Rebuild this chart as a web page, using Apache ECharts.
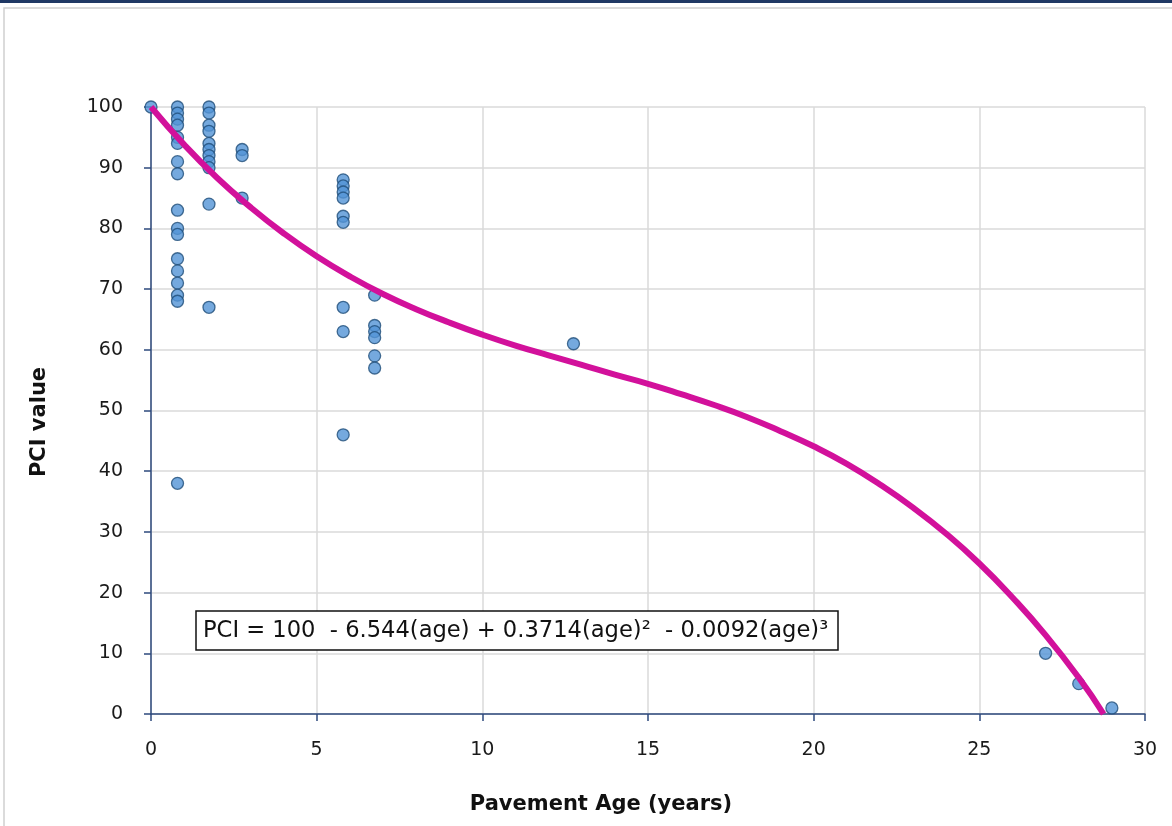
<!DOCTYPE html>
<html>
<head>
<meta charset="utf-8">
<script src="https://cdn.jsdelivr.net/npm/echarts@6/dist/echarts.min.js"></script>
<style>
html,body{margin:0;padding:0;background:#fff;}
#c{width:1172px;height:826px;}
</style>
</head>
<body>
<div id="c"></div>
<script>
// Observed PCI points: [pavement age (years), PCI value]
const ages = [
  0,
  0.8,0.8,0.8,0.8,0.8,0.8,0.8,0.8,0.8,0.8,0.8,0.8,0.8,0.8,0.8,0.8,0.8,
  1.75,1.75,1.75,1.75,1.75,1.75,1.75,1.75,1.75,1.75,1.75,
  2.75,2.75,2.75,
  5.8,5.8,5.8,5.8,5.8,5.8,5.8,5.8,5.8,
  6.75,6.75,6.75,6.75,6.75,6.75,
  12.75,
  27,28,29
];
const pciValues = [
  100,
  100,99,98,97,95,94,91,89,83,80,79,75,73,71,69,68,38,
  100,99,97,96,94,93,92,91,90,84,67,
  93,92,85,
  88,87,86,85,82,81,67,63,46,
  69,64,63,62,59,57,
  61,
  10,5,1
];
// Trend curve
const curveAges = [0,1,2,3,4,5,6,7,8,9,10,11,12,13,14,15,16,17,18,19,20,21,22,23,24,25,26,27,28,28.75];
const curvePci  = [100,93.8,88.3,83.5,79.2,75.4,72.1,69.2,66.7,64.5,62.5,60.7,59.1,57.5,55.9,54.4,52.7,50.9,48.9,46.6,44.1,41.2,37.8,34.0,29.7,24.8,19.2,13.0,6.0,0];
const xTicks = [0,5,10,15,20,25,30];
const yTicks = [0,10,20,30,40,50,60,70,80,90,100];
const equation = 'PCI = 100  - 6.544(age) + 0.3714(age)\u00B2  - 0.0092(age)\u00B3';
const xTitle = 'Pavement Age (years)';
const yTitle = 'PCI value';

const chart = echarts.init(document.getElementById('c'), null, {renderer:'canvas'});
const FONT = 'DejaVu Sans';
const points = ages.map((a,i)=>[a,pciValues[i]]);
const curve = curveAges.map((a,i)=>[a,curvePci[i]]);
const navy = '#2E4A7D';
chart.setOption({
  animation:false,
  backgroundColor:'#fff',
  graphic:[
    {type:'rect', shape:{x:0,y:0,width:1172,height:3}, style:{fill:'#1F3864'}, z:100},
    {type:'rect', shape:{x:4,y:8,width:1200,height:900}, style:{fill:'none',stroke:'#D0D0D0',lineWidth:1.5}, z:100},
    {type:'rect', shape:{x:196,y:611,width:642,height:39}, style:{fill:'#fff',stroke:'#111',lineWidth:1.5}, z:50},
    {type:'text', x:203, y:631, z:51,
      style:{text:equation, fill:'#111', font:'normal 22.6px "DejaVu Sans"', textVerticalAlign:'middle', textAlign:'left'}},
    {type:'text', x:601, y:805, z:51,
      style:{text:xTitle, fill:'#111', font:'bold 21px "DejaVu Sans"', textVerticalAlign:'middle', textAlign:'center'}},
    {type:'text', x:40, y:422, rotation:Math.PI/2, z:51,
      style:{text:yTitle, fill:'#111', font:'bold 21px "DejaVu Sans"', textVerticalAlign:'middle', textAlign:'center'}}
  ],
  grid:{left:151, right:27, top:107, bottom:112, containLabel:false},
  xAxis:{
    type:'value', min:0, max:30, interval:5,
    axisLine:{show:true, lineStyle:{color:navy, width:1.5}},
    axisTick:{show:true, length:7, inside:false, lineStyle:{color:navy, width:1.5}},
    axisLabel:{fontFamily:FONT, fontSize:19, color:'#1a1a1a', margin:27,
      formatter:v=>xTicks.includes(v)?String(v):''},
    splitLine:{show:true, lineStyle:{color:'#DADADA', width:1.5}}
  },
  yAxis:{
    type:'value', min:0, max:100, interval:10,
    axisLine:{show:true, lineStyle:{color:navy, width:1.5}},
    axisTick:{show:true, length:7, lineStyle:{color:navy, width:1.5}},
    axisLabel:{fontFamily:FONT, fontSize:19, color:'#1a1a1a', margin:28,
      formatter:v=>yTicks.includes(v)?String(v):''},
    splitLine:{show:true, lineStyle:{color:'#DADADA', width:1.5}}
  },
  series:[
    {
      type:'scatter', data:points, symbol:'circle', symbolSize:12,
      itemStyle:{color:'#5393D6', borderColor:'#1F4E79', borderWidth:1.3},
      z:3
    },
    {
      type:'line', data:curve, smooth:true, showSymbol:false, symbol:'none',
      lineStyle:{color:'#D2119B', width:6},
      z:4
    }
  ]
});
</script>
</body>
</html>
